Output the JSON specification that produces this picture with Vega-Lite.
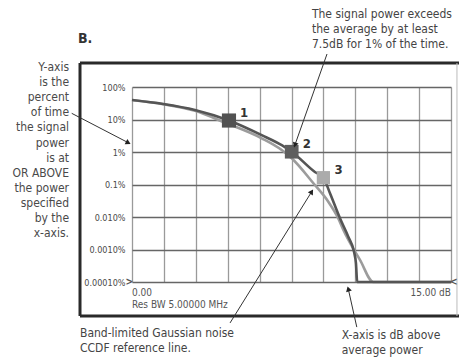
{
  "$schema": "https://vega.github.io/schema/vega-lite/v6.json",
  "width": 319,
  "height": 195,
  "autosize": {"type": "none"},
  "padding": {"left": 132, "top": 87, "right": 8, "bottom": 81},
  "background": "white",
  "config": {"view": {"stroke": null}, "font": "DejaVu Sans Condensed"},
  "datasets": {
    "curves": [
      {"series": "ref", "x": 0, "y": 39.8},
      {"series": "ref", "x": 1.47, "y": 29.5},
      {"series": "ref", "x": 2.96, "y": 18.5},
      {"series": "ref", "x": 4.37, "y": 8.0},
      {"series": "ref", "x": 6.1, "y": 2.64},
      {"series": "ref", "x": 7.04, "y": 1.15},
      {"series": "ref", "x": 7.51, "y": 0.64},
      {"series": "ref", "x": 8.53, "y": 0.109},
      {"series": "ref", "x": 9.23, "y": 0.0296},
      {"series": "ref", "x": 9.7, "y": 0.0091},
      {"series": "ref", "x": 9.94, "y": 0.004},
      {"series": "ref", "x": 10.72, "y": 0.00048},
      {"series": "ref", "x": 11.35, "y": 0.0001},
      {"series": "ref", "x": 15, "y": 0.0001},
      {"series": "meas", "x": 0, "y": 39.8},
      {"series": "meas", "x": 1.47, "y": 30.0},
      {"series": "meas", "x": 2.96, "y": 19.6},
      {"series": "meas", "x": 4.56, "y": 9.3},
      {"series": "meas", "x": 6.1, "y": 3.3},
      {"series": "meas", "x": 7.04, "y": 1.62},
      {"series": "meas", "x": 7.51, "y": 1.02},
      {"series": "meas", "x": 8.6, "y": 0.243},
      {"series": "meas", "x": 9.0, "y": 0.162},
      {"series": "meas", "x": 9.31, "y": 0.0537},
      {"series": "meas", "x": 9.78, "y": 0.0091},
      {"series": "meas", "x": 10.17, "y": 0.00248},
      {"series": "meas", "x": 10.44, "y": 0.00085},
      {"series": "meas", "x": 10.53, "y": 0.00038},
      {"series": "meas", "x": 10.59, "y": 0.0001},
      {"series": "meas", "x": 15, "y": 0.0001}
    ],
    "markers": [
      {"id": "1", "x": 4.56, "y": 9.3},
      {"id": "2", "x": 7.51, "y": 1.02},
      {"id": "3", "x": 9.0, "y": 0.162}
    ],
    "frame": [
      {"part": "dark", "x": -2.445, "y": 547, "x2": -2.445, "y2": 0.000009},
      {"part": "dark", "x": -2.445, "y": 547, "x2": 15.4, "y2": 547},
      {"part": "dark", "x": -2.445, "y": 0.000009, "x2": 15.4, "y2": 0.000009},
      {"part": "light", "x": 15.28, "y": 547, "x2": 15.28, "y2": 0.000009}
    ],
    "arrows": [
      {"id": "a1", "x": -0.174, "y": 1.93, "x2": -2.835, "y2": 15.5},
      {"id": "a2", "x": 7.66, "y": 1.64, "x2": 9.17, "y2": 1035},
      {"id": "a3", "x": 8.45, "y": 0.0602, "x2": 4.61, "y2": 0.0000055},
      {"id": "a4", "x": 10.17, "y": 0.000061, "x2": 10.57, "y2": 0.0000041}
    ],
    "traceEnds": [
      {"t": ">", "side": "left", "x": 0, "y": 0.0001},
      {"t": "<", "side": "right", "x": 15, "y": 0.0001}
    ],
    "notesLeft": [
      {"t": "The signal power exceeds\nthe average by at least\n7.5dB for 1% of the time.", "x": 8.46, "y": 17600},
      {"t": "Band-limited Gaussian noise\nCCDF reference line.", "x": -2.445, "y": 0.0000027},
      {"t": "X-axis is dB above\naverage power", "x": 9.86, "y": 0.00000234}
    ],
    "notesRight": [
      {"t": "Y-axis\nis the\npercent\nof time\nthe signal\npower\nis at\nOR ABOVE\nthe power\nspecified\nby the\nx-axis.", "x": -2.96, "y": 412}
    ],
    "axisLeft": [
      {"t": "0.00", "x": 0, "y": 0.000046},
      {"t": "Res BW 5.00000 MHz", "x": 0, "y": 0.0000196}
    ],
    "axisRight": [
      {"t": "15.00 dB", "x": 15, "y": 0.000046}
    ],
    "title": [
      {"t": "B.", "x": -2.54, "y": 3000}
    ]
  },
  "encoding": {
    "x": {
      "field": "x", "type": "quantitative",
      "scale": {"domain": [0, 15], "nice": false, "zero": false},
      "axis": {"values": [0, 1.5, 3, 4.5, 6, 7.5, 9, 10.5, 12, 13.5, 15], "grid": true, "gridColor": "#9a9a9a", "gridWidth": 1.3, "labels": false, "ticks": false, "domain": false, "title": null}
    },
    "y": {
      "field": "y", "type": "quantitative",
      "scale": {"type": "log", "domain": [0.0001, 100], "nice": false},
      "axis": {
        "values": [0.0001, 0.001, 0.01, 0.1, 1, 10, 100],
        "grid": true, "gridColor": "#666666", "gridWidth": 1.3,
        "ticks": false, "domain": false, "title": null,
        "labelExpr": "datum.value >= 50 ? '100%' : datum.value >= 5 ? '10%' : datum.value >= 0.5 ? '1%' : datum.value >= 0.05 ? '0.1%' : datum.value >= 0.005 ? '0.010%' : datum.value >= 0.0005 ? '0.0010%' : '0.00010%'",
        "labelFont": "DejaVu Sans Condensed", "labelFontSize": 9, "labelColor": "#4a4a4a", "labelPadding": 7
      }
    }
  },
  "layer": [
    {
      "data": {"name": "frame"},
      "transform": [{"filter": "datum.part == 'dark'"}],
      "mark": {"type": "rule", "color": "#2a2a2a", "strokeWidth": 3},
      "encoding": {"x2": {"field": "x2"}, "y2": {"field": "y2"}}
    },
    {
      "data": {"name": "frame"},
      "transform": [{"filter": "datum.part == 'light'"}],
      "mark": {"type": "rule", "color": "#bbbbbb", "strokeWidth": 1},
      "encoding": {"x2": {"field": "x2"}, "y2": {"field": "y2"}}
    },
    {
      "data": {"name": "curves"},
      "transform": [{"filter": "datum.series == 'ref'"}],
      "mark": {"type": "line", "color": "#9c9c9c", "strokeWidth": 2.6, "interpolate": "monotone"},
      "encoding": {}
    },
    {
      "data": {"name": "curves"},
      "transform": [{"filter": "datum.series == 'meas'"}],
      "mark": {"type": "line", "color": "#555555", "strokeWidth": 2.6, "interpolate": "monotone"},
      "encoding": {}
    },
    {
      "data": {"name": "traceEnds"},
      "transform": [{"filter": "datum.side == 'left'"}],
      "mark": {"type": "text", "align": "right", "baseline": "middle", "dx": 1, "fontSize": 10, "fontWeight": "bold", "color": "#555555", "font": "DejaVu Sans Condensed"},
      "encoding": {"text": {"field": "t"}}
    },
    {
      "data": {"name": "traceEnds"},
      "transform": [{"filter": "datum.side == 'right'"}],
      "mark": {"type": "text", "align": "left", "baseline": "middle", "dx": -1, "fontSize": 10, "fontWeight": "bold", "color": "#555555", "font": "DejaVu Sans Condensed"},
      "encoding": {"text": {"field": "t"}}
    },
    {
      "data": {"name": "markers"},
      "mark": {"type": "square", "opacity": 1},
      "encoding": {
        "color": {"field": "id", "type": "nominal", "scale": {"domain": ["1", "2", "3"], "range": ["#525252", "#5e5e5e", "#ababab"]}, "legend": null},
        "size": {"field": "id", "type": "nominal", "scale": {"domain": ["1", "2", "3"], "range": [200, 175, 175]}, "legend": null}
      }
    },
    {
      "data": {"name": "markers"},
      "mark": {"type": "text", "align": "left", "baseline": "middle", "dx": 11, "dy": -8, "fontSize": 13, "fontWeight": "bold", "color": "#333333", "font": "DejaVu Sans Condensed"},
      "encoding": {"text": {"field": "id"}}
    },
    {
      "data": {"name": "arrows"},
      "mark": {"type": "rule", "color": "#333333", "strokeWidth": 1},
      "encoding": {"x2": {"field": "x2"}, "y2": {"field": "y2"}}
    },
    {
      "data": {"name": "arrows"},
      "transform": [{"filter": "datum.id == 'a1'"}],
      "mark": {"type": "point", "shape": "triangle-right", "filled": true, "size": 35, "color": "#222222", "opacity": 1, "angle": 27},
      "encoding": {}
    },
    {
      "data": {"name": "arrows"},
      "transform": [{"filter": "datum.id == 'a2'"}],
      "mark": {"type": "point", "shape": "triangle-right", "filled": true, "size": 35, "color": "#222222", "opacity": 1, "angle": 109},
      "encoding": {}
    },
    {
      "data": {"name": "arrows"},
      "transform": [{"filter": "datum.id == 'a3'"}],
      "mark": {"type": "point", "shape": "triangle-right", "filled": true, "size": 35, "color": "#222222", "opacity": 1, "angle": -58},
      "encoding": {}
    },
    {
      "data": {"name": "arrows"},
      "transform": [{"filter": "datum.id == 'a4'"}],
      "mark": {"type": "point", "shape": "triangle-right", "filled": true, "size": 35, "color": "#222222", "opacity": 1, "angle": -106},
      "encoding": {}
    },
    {
      "data": {"name": "notesLeft"},
      "mark": {"type": "text", "align": "left", "baseline": "middle", "lineBreak": "\n", "lineHeight": 15, "fontSize": 12, "color": "#444444", "font": "DejaVu Sans Condensed"},
      "encoding": {"text": {"field": "t"}}
    },
    {
      "data": {"name": "notesRight"},
      "mark": {"type": "text", "align": "right", "baseline": "middle", "lineBreak": "\n", "lineHeight": 15.1, "fontSize": 12, "color": "#4a4a4a", "font": "DejaVu Sans Condensed"},
      "encoding": {"text": {"field": "t"}}
    },
    {
      "data": {"name": "axisLeft"},
      "mark": {"type": "text", "align": "left", "baseline": "middle", "fontSize": 10, "color": "#555555", "font": "DejaVu Sans Condensed"},
      "encoding": {"text": {"field": "t"}}
    },
    {
      "data": {"name": "axisRight"},
      "mark": {"type": "text", "align": "right", "baseline": "middle", "fontSize": 10, "color": "#555555", "font": "DejaVu Sans Condensed"},
      "encoding": {"text": {"field": "t"}}
    },
    {
      "data": {"name": "title"},
      "mark": {"type": "text", "align": "left", "baseline": "middle", "fontSize": 14, "fontWeight": "bold", "color": "#333333", "font": "DejaVu Sans Condensed"},
      "encoding": {"text": {"field": "t"}}
    }
  ]
}
